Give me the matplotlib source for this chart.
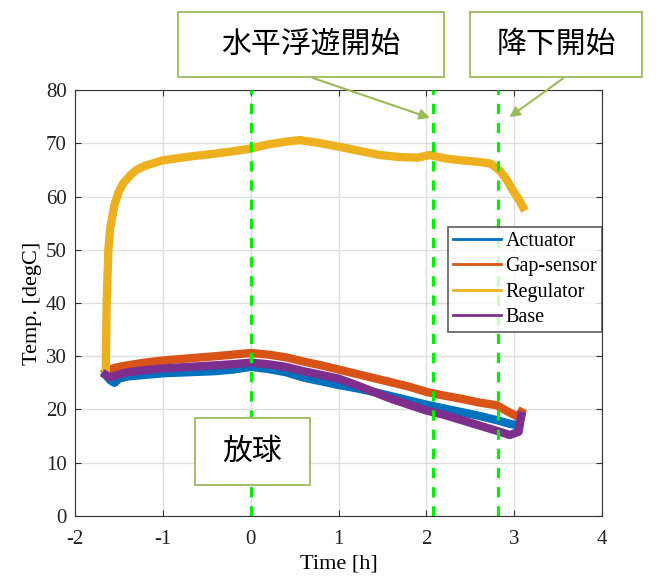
import matplotlib.pyplot as plt
from matplotlib.patches import Rectangle

# 時間 [h]（下側3系列で共通）
t = [-1.65, -1.6, -1.55, -1.5, -1.4, -1.2, -1.0, -0.7, -0.4, -0.2, 0.0, 0.2, 0.4,
     0.6, 0.8, 1.0, 1.2, 1.4, 1.6, 1.8, 2.0, 2.2, 2.4, 2.6, 2.8, 2.95, 3.05, 3.08]
actuator = [26.5, 25.5, 25.0, 25.8, 26.2, 26.5, 26.8, 27.0, 27.2, 27.5, 28.0, 27.6, 27.0,
            26.0, 25.3, 24.6, 24.0, 23.3, 22.5, 21.7, 20.9, 20.2, 19.5, 18.8, 18.0, 17.3,
            17.0, 18.8]
gap_sensor = [27.0, 27.5, 27.8, 28.0, 28.3, 28.8, 29.2, 29.6, 30.0, 30.3, 30.6, 30.3, 29.8,
              29.0, 28.3, 27.5, 26.7, 25.9, 25.1, 24.3, 23.3, 22.6, 22.0, 21.3, 20.8, 19.4,
              18.6, 19.5]
base = [26.5, 26.0, 26.3, 26.6, 27.0, 27.4, 27.7, 28.0, 28.3, 28.5, 28.8, 28.5, 28.0,
        27.2, 26.5, 25.8, 24.6, 23.3, 22.0, 20.9, 19.8, 19.0, 18.0, 17.0, 16.0, 15.2,
        15.8, 18.8]

# Regulator は別の時間点
t_reg = [-1.65, -1.64, -1.62, -1.6, -1.55, -1.5, -1.45, -1.37, -1.3, -1.2, -1.0, -0.7,
         -0.43, -0.2, 0.0, 0.2, 0.4, 0.56, 0.8, 1.02, 1.2, 1.47, 1.7, 1.9, 2.04, 2.2,
         2.4, 2.6, 2.73, 2.84, 2.92, 2.99, 3.05, 3.1]
regulator = [27.0, 40.0, 50.0, 54.0, 58.5, 61.0, 62.5, 64.0, 65.0, 65.8, 66.8, 67.5,
             68.0, 68.5, 69.0, 69.8, 70.3, 70.6, 70.0, 69.3, 68.7, 67.8, 67.4, 67.3, 67.8,
             67.2, 66.8, 66.5, 66.2, 64.8, 63.0, 61.0, 59.5, 58.0]

# イベント時刻 [h]
events = [0.0, 2.08, 2.82]

labels = ['Actuator', 'Gap-sensor', 'Regulator', 'Base']
colors = ['#0072BD', '#D95319', '#EDB120', '#7E2F8E']

plt.rcParams['font.family'] = ['Liberation Serif', 'DejaVu Serif']
plt.rcParams['axes.unicode_minus'] = False

fig = plt.figure(figsize=(6.65, 5.81), dpi=100)
ax = fig.add_axes([0.1128, 0.112, 0.7925, 0.733])

ax.plot(t, actuator, color=colors[0], lw=6, label=labels[0])
ax.plot(t, gap_sensor, color=colors[1], lw=6, label=labels[1])
ax.plot(t_reg, regulator, color=colors[2], lw=6, label=labels[2])
ax.plot(t, base, color=colors[3], lw=6, label=labels[3])

for ev in events:
    ax.axvline(ev, color='#00ee00', lw=2.3, linestyle=(0, (3.2, 2.8)), zorder=5)

ax.set_xlim(-2, 4)
ax.set_ylim(0, 80)
ax.set_xticks(range(-2, 5))
ax.set_yticks(range(0, 81, 10))
ax.grid(True, color='#dedede', lw=1)
ax.set_axisbelow(True)
ax.tick_params(direction='in', top=True, right=True, labelsize=15, length=4,
               color='#333333', labelcolor='#222222')
ax.tick_params(axis='x', pad=10)
ax.tick_params(axis='y', pad=6)
for s in ax.spines.values():
    s.set_color('#333333')
ax.set_xlabel('Time [h]', fontsize=16, labelpad=4)
ax.set_ylabel('Temp. [degC]', fontsize=16, labelpad=3)

leg = ax.legend(loc='upper right', bbox_to_anchor=(1.0, 0.678), fontsize=14.5,
                frameon=True, fancybox=False, edgecolor='#333333', borderaxespad=0,
                handlelength=2.4, handletextpad=0.2, labelspacing=0.3, borderpad=0.25)
leg.get_frame().set_linewidth(1.2)
for line in leg.get_lines():
    line.set_linewidth(2)

# 注記ボックス（図のピクセル座標 → 割合）
W, H = 665, 581
edge = '#9BBB59'
cjk = ['Noto Sans CJK JP', 'DejaVu Sans']

def text_box(x0, y0, x1, y1, text):
    fig.add_artist(Rectangle((x0 / W, 1 - y1 / H), (x1 - x0) / W, (y1 - y0) / H,
                             transform=fig.transFigure, facecolor='white',
                             edgecolor=edge, lw=1.3, zorder=10))
    fig.text((x0 + x1) / 2 / W, 1 - (y0 + y1) / 2 / H, text, ha='center', va='center',
             fontsize=21.5, family=cjk, zorder=11)

text_box(178, 12, 444, 77, '水平浮遊開始')
text_box(470, 12, 642, 77, '降下開始')
text_box(195, 418, 310, 485, '放球')

ax.annotate('', xy=(2.07, 74.6), xycoords='data',
            xytext=(310 / W, 1 - 77 / H), textcoords='figure fraction',
            arrowprops=dict(arrowstyle='-|>', color=edge, lw=1.5, mutation_scale=15),
            annotation_clip=False)
ax.annotate('', xy=(2.92, 74.6), xycoords='data',
            xytext=(565 / W, 1 - 77 / H), textcoords='figure fraction',
            arrowprops=dict(arrowstyle='-|>', color=edge, lw=1.5, mutation_scale=15),
            annotation_clip=False)

fig.savefig('out.png', dpi=100)
